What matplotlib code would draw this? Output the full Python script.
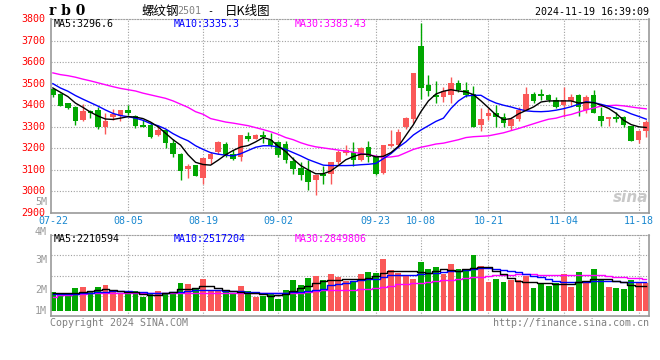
import numpy as np
import matplotlib.pyplot as plt

plt.rcParams['font.family'] = ['DejaVu Sans Mono', 'Noto Sans CJK SC']

# x axis labels (trading-day index of each label)
dates = ["07-22", "08-05", "08-19", "09-02", "09-23", "10-08", "10-21", "11-04", "11-18"]
date_idx = [0, 10, 20, 30, 43, 49, 58, 68, 78]

# daily candles rb2501
opens = [3474, 3454, 3408, 3393, 3330, 3373, 3377, 3300, 3347, 3351,
         3380, 3349, 3307, 3308, 3262, 3283, 3227, 3174, 3104, 3121,
         3064, 3150, 3182, 3222, 3174, 3159, 3259, 3245, 3260, 3240,
         3228, 3222, 3139, 3107, 3098, 3052, 3082, 3079, 3135, 3179,
         3185, 3148, 3208, 3159, 3087, 3212, 3217, 3300, 3338, 3677,
         3496, 3447, 3437, 3446, 3503, 3472, 3454, 3308, 3350, 3362,
         3347, 3305, 3334, 3377, 3451, 3451, 3448, 3426, 3403, 3420,
         3446, 3377, 3449, 3350, 3334, 3345, 3345, 3304, 3239, 3282]
highs = [3477, 3458, 3412, 3396, 3405, 3380, 3390, 3366, 3383, 3380,
         3399, 3354, 3330, 3322, 3308, 3286, 3243, 3177, 3128, 3124,
         3156, 3181, 3236, 3231, 3192, 3263, 3277, 3268, 3281, 3270,
         3236, 3236, 3160, 3137, 3144, 3075, 3116, 3135, 3193, 3217,
         3230, 3207, 3236, 3167, 3217, 3285, 3289, 3347, 3550, 3780,
         3542, 3512, 3483, 3532, 3515, 3508, 3488, 3385, 3385, 3400,
         3362, 3347, 3390, 3485, 3462, 3477, 3454, 3436, 3485, 3454,
         3454, 3446, 3469, 3393, 3347, 3370, 3350, 3304, 3285, 3331]
lows = [3438, 3395, 3382, 3310, 3327, 3340, 3290, 3266, 3330, 3325,
        3354, 3295, 3300, 3250, 3257, 3203, 3158, 3051, 3062, 3072,
        3035, 3128, 3175, 3160, 3144, 3140, 3236, 3241, 3223, 3205,
        3160, 3133, 3082, 3052, 3006, 2983, 3033, 3033, 3129, 3167,
        3116, 3140, 3136, 3076, 3082, 3208, 3202, 3292, 3317, 3430,
        3442, 3410, 3416, 3410, 3462, 3439, 3301, 3282, 3331, 3301,
        3301, 3285, 3328, 3377, 3408, 3423, 3416, 3385, 3347, 3400,
        3350, 3362, 3362, 3304, 3304, 3324, 3301, 3232, 3224, 3252]
closes = [3448, 3397, 3388, 3328, 3373, 3364, 3300, 3327, 3359, 3380,
          3362, 3304, 3301, 3253, 3283, 3223, 3172, 3097, 3116, 3072,
          3154, 3175, 3231, 3167, 3152, 3263, 3245, 3263, 3254, 3217,
          3171, 3144, 3102, 3075, 3044, 3075, 3072, 3135, 3185, 3193,
          3148, 3202, 3159, 3082, 3217, 3222, 3277, 3343, 3550, 3481,
          3464, 3437, 3465, 3504, 3469, 3446, 3301, 3336, 3362, 3347,
          3316, 3334, 3377, 3451, 3420, 3443, 3423, 3393, 3426, 3439,
          3393, 3436, 3365, 3327, 3347, 3337, 3308, 3232, 3281, 3323]

ma5 = [3480, 3460, 3440, 3410, 3390, 3368, 3350, 3336, 3334, 3340,
       3347, 3345, 3338, 3322, 3300, 3270, 3240, 3215, 3170, 3135,
       3125, 3122, 3145, 3170, 3190, 3206, 3213, 3230, 3250, 3240,
       3210, 3185, 3150, 3120, 3100, 3082, 3082, 3095, 3120, 3147,
       3162, 3173, 3172, 3160, 3163, 3180, 3209, 3260, 3310, 3370,
       3420, 3452, 3465, 3472, 3466, 3462, 3449, 3420, 3388, 3355,
       3333, 3338, 3360, 3376, 3392, 3415, 3420, 3420, 3420, 3420,
       3410, 3413, 3412, 3400, 3385, 3362, 3330, 3310, 3300, 3296.6]
ma10 = [3500, 3480, 3465, 3445, 3428, 3412, 3396, 3378, 3362, 3352,
        3347, 3340, 3330, 3315, 3305, 3290, 3268, 3250, 3235, 3212,
        3195, 3180, 3173, 3168, 3165, 3175, 3190, 3205, 3212, 3212,
        3206, 3195, 3180, 3165, 3148, 3135, 3122, 3120, 3120, 3120,
        3121, 3124, 3126, 3130, 3152, 3175, 3205, 3230, 3262, 3285,
        3305, 3325, 3340, 3385, 3420, 3443, 3446, 3446, 3425, 3410,
        3400, 3392, 3382, 3374, 3371, 3370, 3372, 3377, 3384, 3393,
        3405, 3416, 3412, 3404, 3395, 3385, 3375, 3360, 3348, 3335.3]
ma30 = [3550, 3542, 3537, 3530, 3521, 3513, 3504, 3495, 3486, 3478,
        3472, 3466, 3456, 3448, 3440, 3432, 3420, 3405, 3390, 3370,
        3358, 3338, 3330, 3322, 3317, 3311, 3305, 3296, 3287, 3277,
        3265, 3250, 3240, 3226, 3215, 3207, 3202, 3197, 3192, 3187,
        3182, 3176, 3170, 3164, 3158, 3160, 3165, 3180, 3195, 3205,
        3212, 3220, 3224, 3232, 3240, 3250, 3254, 3256, 3258, 3265,
        3272, 3282, 3292, 3303, 3314, 3325, 3335, 3340, 3350, 3357,
        3368, 3378, 3387, 3396, 3398, 3400, 3397, 3392, 3387, 3383.43]

# volume, millions of lots
volume = [1.67, 1.55, 1.47, 2.01, 2.09, 1.67, 2.09, 2.26, 1.67, 1.58,
          1.67, 1.72, 1.24, 1.58, 1.75, 1.55, 1.67, 2.44, 2.35, 1.89,
          2.78, 1.72, 1.78, 1.75, 1.50, 2.18, 1.75, 1.24, 1.35, 1.47,
          1.07, 1.84, 2.69, 2.26, 2.86, 3.06, 2.69, 3.21, 2.95, 2.61,
          2.61, 3.21, 3.38, 3.29, 4.49, 3.55, 3.29, 3.12, 2.78, 4.23,
          3.63, 3.80, 3.21, 4.06, 3.63, 3.46, 4.83, 3.89, 2.52, 2.78,
          2.52, 2.69, 2.69, 3.03, 2.01, 2.35, 2.18, 2.44, 3.21, 2.09,
          3.38, 2.61, 3.63, 2.78, 2.09, 2.01, 1.92, 2.69, 2.44, 2.44]
vma5 = [1.55, 1.55, 1.55, 1.60, 1.64, 1.75, 1.84, 1.89, 1.85, 1.75,
        1.70, 1.65, 1.50, 1.42, 1.45, 1.55, 1.70, 1.89, 1.89, 2.00,
        2.18, 2.15, 2.05, 1.85, 1.75, 1.70, 1.62, 1.58, 1.50, 1.30,
        1.40, 1.47, 1.75, 2.00, 2.18, 2.45, 2.62, 2.69, 2.72, 2.75,
        2.78, 2.81, 2.90, 3.05, 3.25, 3.45, 3.49, 3.49, 3.49, 3.35,
        3.32, 3.45, 3.60, 3.55, 3.49, 3.60, 3.75, 3.83, 3.80, 3.50,
        3.20, 2.85, 2.60, 2.55, 2.50, 2.45, 2.41, 2.38, 2.35, 2.35,
        2.50, 2.62, 2.75, 2.75, 2.75, 2.65, 2.50, 2.30, 2.22, 2.21]
vma10 = [1.47, 1.47, 1.50, 1.53, 1.56, 1.60, 1.64, 1.68, 1.74, 1.76,
         1.74, 1.70, 1.65, 1.62, 1.61, 1.62, 1.65, 1.70, 1.78, 1.84,
         1.84, 1.84, 1.82, 1.79, 1.75, 1.72, 1.70, 1.66, 1.62, 1.58,
         1.55, 1.57, 1.63, 1.70, 1.78, 1.86, 1.96, 2.25, 2.35, 2.46,
         2.60, 2.72, 2.78, 2.82, 2.95, 3.08, 3.12, 3.12, 3.14, 3.20,
         3.26, 3.32, 3.39, 3.44, 3.49, 3.58, 3.66, 3.72, 3.70, 3.62,
         3.55, 3.45, 3.35, 3.20, 3.05, 2.92, 2.78, 2.65, 2.52, 2.49,
         2.50, 2.55, 2.62, 2.64, 2.64, 2.60, 2.55, 2.52, 2.52, 2.52]
vma30 = [1.27, 1.38, 1.45, 1.50, 1.52, 1.55, 1.55, 1.55, 1.55, 1.55,
         1.55, 1.55, 1.55, 1.55, 1.55, 1.55, 1.55, 1.55, 1.55, 1.62,
         1.62, 1.62, 1.62, 1.62, 1.62, 1.62, 1.62, 1.62, 1.62, 1.62,
         1.62, 1.62, 1.62, 1.62, 1.70, 1.76, 1.82, 1.84, 1.85, 1.87,
         1.88, 1.89, 1.95, 2.02, 2.10, 2.22, 2.32, 2.36, 2.40, 2.45,
         2.49, 2.58, 2.68, 2.73, 2.80, 2.85, 2.92, 2.98, 3.04, 3.09,
         3.12, 3.15, 3.17, 3.18, 3.18, 3.15, 3.12, 3.10, 3.09, 3.09,
         3.09, 3.09, 3.09, 3.09, 3.05, 2.98, 2.92, 2.87, 2.85, 2.82]

RED = '#fa5858'
GREEN = '#00a600'
GRID = '#a0a0a0'
FRAME = '#999999'
W, H = 660, 360
FS = 7.2

o = np.array(opens, float)
c = np.array(closes, float)
x = np.arange(len(c))
cols = np.where(c >= o, RED, GREEN)

fig = plt.figure(figsize=(6.6, 3.6), dpi=100)
ax = fig.add_axes([51 / W, 147 / H, 598 / W, 194 / H])
vax = fig.add_axes([51 / W, 44 / H, 598 / W, 81 / H])

for a in (ax, vax):
    a.set_xlim(-0.25, 79.37)
    for s in ('left', 'right', 'bottom'):
        a.spines[s].set_color(FRAME)
        a.spines[s].set_linewidth(1.2)
    a.spines['top'].set_color(GRID)
    a.spines['top'].set_linestyle((0, (1, 1.5)))
    for d in date_idx[1:]:
        a.axvline(d, color=GRID, lw=0.8, ls=(0, (1, 1.5)), zorder=0)

# price panel
ax.set_ylim(2900, 3800)
for p in range(3000, 3800, 100):
    ax.axhline(p, color=GRID, lw=0.8, ls=(0, (1, 1.5)), zorder=0)
ax.vlines(x, lows, highs, colors=cols, lw=1, zorder=2)
body = np.maximum(np.abs(c - o), 2)
ax.bar(x, body, bottom=np.minimum(o, c), width=0.74, color=cols, lw=0, zorder=3)
ax.plot(x, ma30, color='#ff00ff', lw=1, zorder=4)
ax.plot(x, ma10, color='#0000ff', lw=1, zorder=4)
ax.plot(x, ma5, color='black', lw=1, zorder=4)

ax.set_yticks(range(2900, 3801, 100))
ax.tick_params(axis='y', length=0, pad=4, labelcolor='#ff0000', labelsize=FS)
for t in ax.get_yticklabels():
    t.set_verticalalignment('center')
ax.set_xticks(date_idx, dates)
ax.tick_params(axis='x', length=0, pad=2.5, labelcolor='#1a88d0', labelsize=FS)

# volume panel
vax.set_ylim(-0.385, 6.54)
for f in (0.25, 0.5, 0.75):
    vax.plot([0, 1], [f, f], transform=vax.transAxes, color=GRID, lw=0.8,
             ls=(0, (1, 1.5)), zorder=0)
vax.bar(x, volume, width=0.78, color=cols, lw=0, zorder=2)
vax.plot(x, vma30, color='#ff00ff', lw=1, zorder=3, drawstyle='steps-mid')
vax.plot(x, vma10, color='#0000ff', lw=1, zorder=3, drawstyle='steps-mid')
vax.plot(x, vma5, color='black', lw=1, zorder=3, drawstyle='steps-mid')
vax.set_xticks([])
vax.set_yticks([])

# volume scale labels (as sina draws them)
for lab, py in [("5M", 202), ("4M", 231.5), ("3M", 260), ("2M", 290), ("1M", 311)]:
    fig.text(47 / W, 1 - py / H, lab, ha='right', va='center', color='#999999', size=FS)

# header
fig.text(49 / W, 1 - 11 / H, "r b 0", family='DejaVu Serif', weight='bold', size=10, va='center')
cjk = ['Noto Sans CJK SC', 'DejaVu Sans']
fig.text(141 / W, 1 - 11 / H, "螺纹钢", family=cjk, size=9, va='center')
fig.text(177 / W, 1 - 11 / H, "2501", color='#808080', size=FS, va='center')
fig.text(207 / W, 1 - 11 / H, "-", size=FS, va='center')
fig.text(225 / W, 1 - 11 / H, "日K线图", family=cjk, size=9, va='center')
fig.text(649 / W, 1 - 12 / H, "2024-11-19 16:39:09", ha='right', va='center', size=FS)

# MA legends
for px, txt, col in [(54, "MA5:3296.6", 'black'), (174, "MA10:3335.3", '#0000ff'),
                     (295, "MA30:3383.43", '#ff00ff')]:
    fig.text(px / W, 1 - 24 / H, txt, color=col, size=FS, va='center')
for px, txt, col in [(54, "MA5:2210594", 'black'), (174, "MA10:2517204", '#0000ff'),
                     (295, "MA30:2849806", '#ff00ff')]:
    fig.text(px / W, 1 - 239 / H, txt, color=col, size=FS, va='center')

# footer + watermark
fig.text(50 / W, 1 - 323 / H, "Copyright 2024 SINA.COM", color='#808080', size=FS, va='center')
fig.text(649 / W, 1 - 323 / H, "http://finance.sina.com.cn", color='#808080', size=FS,
         ha='right', va='center')
fig.text(648 / W, 1 - 197 / H, "sina", color='#c8c8c8', family='DejaVu Sans', style='italic',
         weight='bold', size=11, ha='right', va='center')

fig.savefig("out.png", dpi=100)
